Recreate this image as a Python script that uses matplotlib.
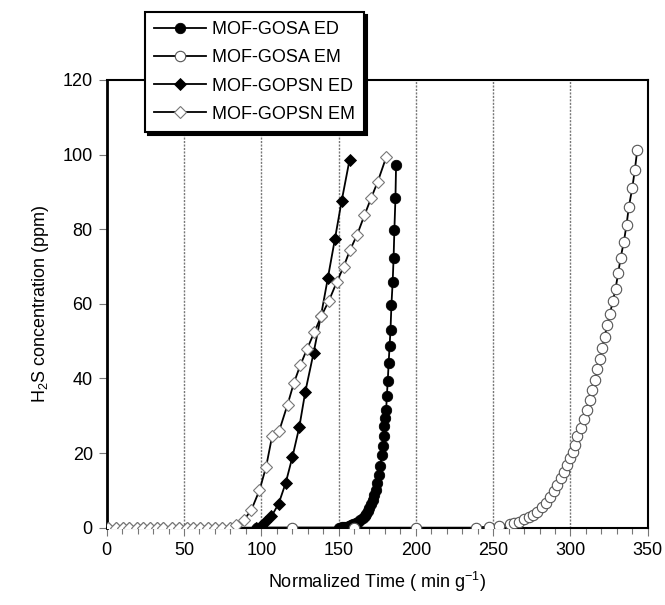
import numpy as np
import matplotlib
matplotlib.use("Agg")
from matplotlib import pyplot as plt
from matplotlib.ticker import MultipleLocator

plt.rcParams['font.family'] = ['Liberation Sans', 'DejaVu Sans']
plt.rcParams['mathtext.fontset'] = 'custom'
plt.rcParams['mathtext.rm'] = 'Liberation Sans'
plt.rcParams['mathtext.it'] = 'Liberation Sans'

# MOF-GOSA ED (filled circles)
gosa_ed_x = [97, 150.5, 152, 153.5, 155, 156.5, 158, 159.5, 161, 162.5, 164, 165.5, 167, 168, 169,
             170, 171, 172, 173, 174, 175, 176, 177, 178, 178.6, 179.2, 179.7, 180.3, 180.8,
             181.2, 181.8, 182.4, 183, 183.6, 184.2, 185, 185.6, 186.1, 186.8, 187.2]
gosa_ed_y = [0, 0, 0.1, 0.2, 0.3, 0.5, 0.7, 0.9, 1.2, 1.5, 2.0, 2.5, 3.2, 3.8, 4.5,
             5.3, 6.3, 7.4, 8.7, 10.2, 12, 14, 16.5, 19.5, 21.8, 24.5, 27.2, 29.5, 31.6,
             35.2, 39.2, 44.2, 48.7, 53.1, 59.8, 65.9, 72.4, 79.8, 88.5, 97.2]

# MOF-GOSA EM (open circles)
gosa_em_x = [97, 120, 160, 200, 239, 247, 254, 260.8, 263.6, 266.8, 270, 273.3, 275.9, 278.6,
             281.5, 284, 286.6, 289.4, 291.5, 293.7, 295.9, 298, 299.5, 301.7, 303, 304.5,
             306.7, 308.8, 311, 312.5, 314.1, 315.7, 317.4, 318.9, 320.6, 322.1, 323.8,
             325.6, 327.5, 329.2, 330.9, 332.5, 334.6, 336.3, 337.8, 340, 341.7, 343.2]
gosa_em_y = [0, 0, 0, 0, 0, 0.3, 0.5, 1.0, 1.2, 1.6, 2.2, 2.8, 3.4, 4.3,
             5.5, 6.7, 8.2, 9.7, 11.5, 13.3, 15, 16.9, 18.7, 20.4, 22.2, 24.5,
             26.7, 29.1, 31.6, 34.1, 36.8, 39.5, 42.6, 45.3, 48.2, 51.2, 54.2,
             57.4, 60.8, 64.1, 68.2, 72.4, 76.7, 81.2, 86, 91, 96, 101.1]

base_x = [1, 6, 10.7, 14.6, 19.4, 23.7, 28, 32.7, 36.6, 42, 46.7, 51.7, 56, 60.3,
          65.7, 70, 74.3, 79.6]

# MOF-GOPSN ED (filled diamonds)
gopsn_ed_x = base_x + [96.8, 100, 102.2, 106.5, 111.2, 115.8, 120.1, 124.6, 128.5,
                       133.8, 138.6, 143.1, 147.6, 152, 157.1]
gopsn_ed_y = [0] * len(base_x) + [0, 0.5, 1.6, 3, 6.4, 12, 18.9, 27, 36.5,
                                  46.8, 56.8, 67, 77.3, 87.6, 98.6]

# MOF-GOPSN EM (open diamonds)
gopsn_em_x = base_x + [83.7, 88.9, 93.6, 98.8, 103.1, 107, 111.6, 117, 121, 125.2, 129.5,
                       134.4, 138.8, 143.6, 148.8, 153.3, 157.5, 162, 166.7, 171, 175.3, 180.8]
gopsn_em_y = [0] * len(base_x) + [0.7, 2.1, 4.8, 10, 16.3, 24.5, 26, 33, 38.7, 43.5, 47.8,
                                  52.5, 56.7, 60.7, 65.8, 70, 74.5, 78.5, 83.7, 88.3, 92.7, 99.3]

fig = plt.figure(figsize=(6.65, 6.05), dpi=100)
ax = fig.add_axes([0.1605, 0.1278, 0.8135, 0.74])

ax.plot(gosa_ed_x, gosa_ed_y, '-o', color='k', lw=1.3, ms=7.5, mfc='k', mec='k', mew=0.6,
        label='MOF-GOSA ED', zorder=3)
ax.plot(gosa_em_x, gosa_em_y, '-o', color='k', lw=1.3, ms=7.5, mfc='white', mec='#555555', mew=0.8,
        label='MOF-GOSA EM', zorder=3)
ax.plot(gopsn_ed_x, gopsn_ed_y, '-D', color='k', lw=1.3, ms=6.5, mfc='k', mec='k', mew=0.6,
        label='MOF-GOPSN ED', zorder=3)
ax.plot(gopsn_em_x, gopsn_em_y, '-D', color='k', lw=1.3, ms=6.5, mfc='white', mec='#777777', mew=0.8,
        label='MOF-GOPSN EM', zorder=3)

ax.set_xlim(0, 350)
ax.set_ylim(0, 120)
ax.xaxis.set_major_locator(MultipleLocator(50))
ax.xaxis.set_minor_locator(MultipleLocator(10))
ax.yaxis.set_major_locator(MultipleLocator(20))
ax.tick_params(axis='both', which='major', direction='out', length=6, width=0.8,
               color='#777777', labelsize=13, pad=4)
ax.tick_params(axis='x', which='minor', direction='out', length=4, width=0.8, color='#777777')

for gx in [50, 100, 150, 200, 250, 300]:
    ax.axvline(gx, color='#777777', linestyle=(0, (1.5, 1)), linewidth=1.0, zorder=1)

for s in ['left', 'right', 'top', 'bottom']:
    ax.spines[s].set_color('k')
ax.spines['left'].set_linewidth(2.0)
ax.spines['right'].set_linewidth(1.5)
ax.spines['top'].set_linewidth(1.5)
ax.spines['bottom'].set_linewidth(1.5)

ax.set_xlabel('Normalized Time ( min g$^{-1}$)', fontsize=13, labelpad=8)
ax.set_ylabel('H$_2$S concentration (ppm)', fontsize=13, labelpad=8)

leg = ax.legend(loc='upper left', bbox_to_anchor=(0.218, 0.98), bbox_transform=fig.transFigure,
                borderaxespad=0, fontsize=13, handlelength=2.9, labelspacing=0.62,
                handletextpad=0.3, borderpad=0.5, fancybox=False,
                shadow={'color': 'k', 'alpha': 1.0}, framealpha=1)
leg.get_frame().set_edgecolor('k')
leg.get_frame().set_linewidth(1.5)
leg.set_zorder(10)

fig.savefig('out.png', dpi=100)
